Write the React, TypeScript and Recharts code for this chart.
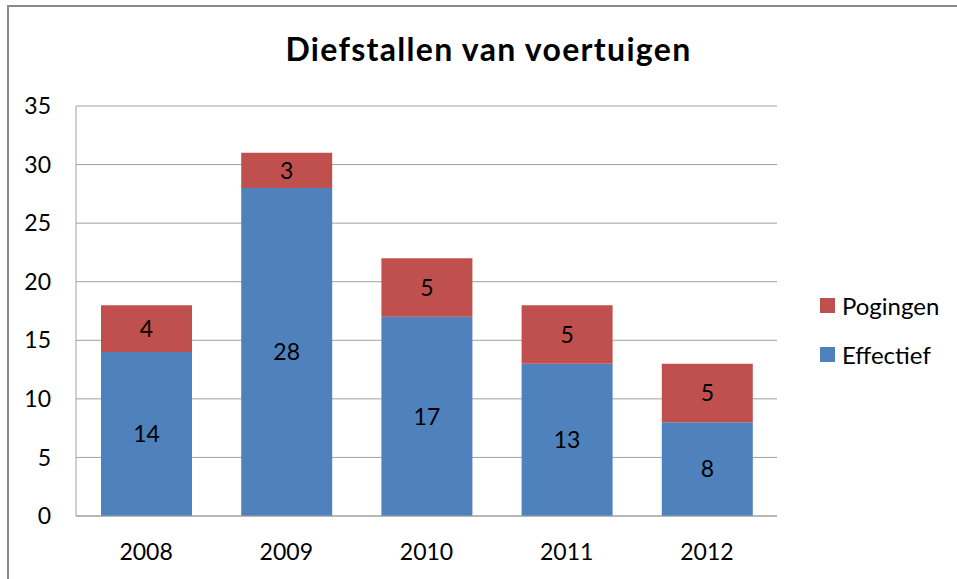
import React from 'react';
import { BarChart, Bar, XAxis, YAxis, CartesianGrid, LabelList } from 'recharts';

const years = ['2008', '2009', '2010', '2011', '2012'];
const effectief = [14, 28, 17, 13, 8];
const pogingen = [4, 3, 5, 5, 5];
const yTicks = [0, 5, 10, 15, 20, 25, 30, 35];

const BLUE = '#4F81BD';
const RED = '#C0504D';
const GRID = '#a0a0a0';
const FONT = 'Lato, "Open Sans", sans-serif';

const data = years.map((year, i) => ({
  year,
  Effectief: effectief[i],
  Pogingen: pogingen[i],
}));

const legendItems = [
  { name: 'Pogingen', color: RED },
  { name: 'Effectief', color: BLUE },
];

document.body.style.margin = '0';

export default function App() {
  return (
    <div style={{ position: 'relative', width: 957, height: 579, overflow: 'hidden', background: '#fff', fontFamily: FONT }}>
      {/* outer chart frame, only the top and left edges show */}
      <div
        style={{
          position: 'absolute',
          left: 7,
          top: 5,
          width: 1000,
          height: 700,
          border: '2px solid #8a8a8a',
          boxSizing: 'border-box',
        }}
      />
      <div
        style={{
          position: 'absolute',
          left: 1,
          top: 29,
          width: 975,
          textAlign: 'center',
          fontSize: 32,
          letterSpacing: 1.3,
          fontWeight: 700,
          color: '#000',
          whiteSpace: 'nowrap',
        }}
      >
        Diefstallen van voertuigen
      </div>
      <div style={{ position: 'absolute', left: 0, top: 0 }}>
        <BarChart
          width={957}
          height={579}
          data={data}
          margin={{ top: 106, right: 180, bottom: 0, left: 0 }}
        >
          <CartesianGrid vertical={false} stroke={GRID} strokeWidth={1} />
          <XAxis
            dataKey="year"
            height={63}
            axisLine={{ stroke: GRID }}
            tickLine={false}
            tickSize={0}
            tickMargin={28}
            tick={{ fill: '#000', fontSize: 23, fontFamily: FONT }}
          />
          <YAxis
            width={76}
            domain={[0, 35]}
            ticks={yTicks}
            axisLine={{ stroke: GRID }}
            tickLine={false}
            tickSize={0}
            tickMargin={25}
            tick={{ fill: '#000', fontSize: 23, fontFamily: FONT }}
          />
          <Bar dataKey="Effectief" stackId="a" fill={BLUE} barSize={91} isAnimationActive={false}>
            <LabelList dataKey="Effectief" position="center" fill="#000" fontSize={23} fontFamily={FONT} />
          </Bar>
          <Bar dataKey="Pogingen" stackId="a" fill={RED} barSize={91} isAnimationActive={false}>
            <LabelList dataKey="Pogingen" position="center" fill="#000" fontSize={23} fontFamily={FONT} />
          </Bar>
        </BarChart>
      </div>
      {legendItems.map((item, i) => (
        <div
          key={item.name}
          style={{
            position: 'absolute',
            left: 820,
            top: 291 + i * 49,
            height: 28,
            display: 'flex',
            alignItems: 'center',
            fontSize: 24,
            color: '#000',
          }}
        >
          <span style={{ display: 'inline-block', width: 15, height: 15, background: item.color, marginRight: 7 }} />
          {item.name}
        </div>
      ))}
    </div>
  );
}
